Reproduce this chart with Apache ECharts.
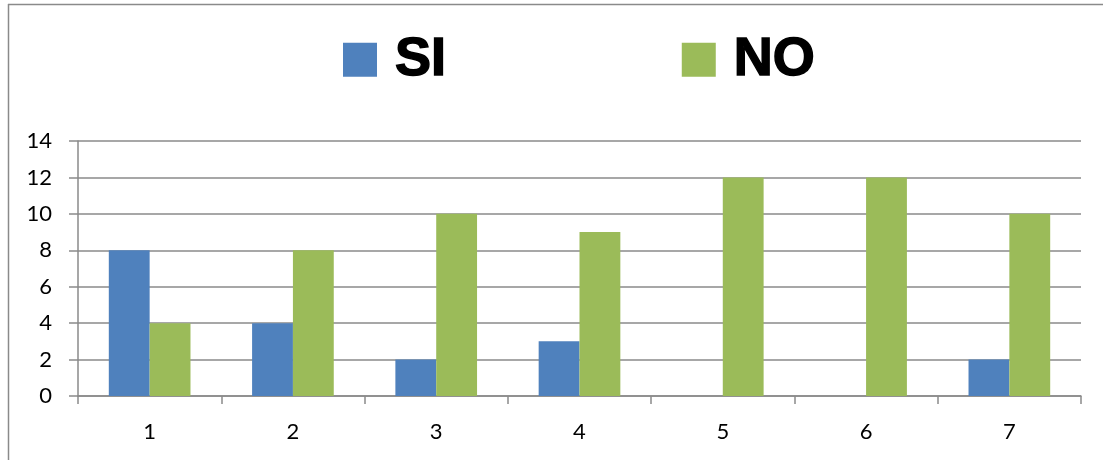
<!DOCTYPE html>
<html><head><meta charset="utf-8">
<script src="https://cdn.jsdelivr.net/npm/echarts@6/dist/echarts.min.js"></script>
<style>html,body{margin:0;padding:0;background:#fff;}#c{width:1103px;height:460px;}</style>
</head><body><div id="c"></div>
<script>
const categories = ['1','2','3','4','5','6','7'];
const siValues = [8,4,2,3,0,0,2];
const noValues = [4,8,10,9,12,12,10];
const seriesNames = ['SI','NO'];

const chart = echarts.init(document.getElementById('c'), null, {renderer:'canvas'});
const axisFont = {fontFamily:'Lato, "Open Sans", sans-serif', fontSize:22, color:'#000'};
chart.setOption({
  animation:false,
  backgroundColor:'#fff',
  graphic:[
    {type:'line', shape:{x1:8,y1:4.5,x2:1103,y2:4.5}, style:{stroke:'#8a8a8a',lineWidth:1.5}},
    {type:'line', shape:{x1:8.5,y1:4,x2:8.5,y2:460}, style:{stroke:'#8a8a8a',lineWidth:1.5}}
  ],
  legend:{
    left:338, top:27,
    itemWidth:34, itemHeight:34, itemGap:235,
    icon:'rect',
    data:seriesNames,
    textStyle:{fontFamily:'"Liberation Sans", Arial, sans-serif', fontWeight:'bold', fontSize:54, color:'#000', padding:[0,0,0,13], lineHeight:54, textBorderColor:'#000', textBorderWidth:1.5}
  },
  grid:{left:78, right:22, top:141, bottom:64, containLabel:false},
  xAxis:{
    type:'category', data:categories,
    axisLine:{lineStyle:{color:'#8a8a8a', width:1.5}},
    axisTick:{show:true, length:8, lineStyle:{color:'#8a8a8a', width:1.5}},
    axisLabel:Object.assign({margin:25}, axisFont)
  },
  yAxis:{
    type:'value', min:0, max:14, interval:2,
    axisLine:{show:true, lineStyle:{color:'#8a8a8a', width:1.5}},
    axisTick:{show:true, length:9, lineStyle:{color:'#8a8a8a', width:1.5}},
    splitLine:{lineStyle:{color:'#8a8a8a', width:1.5}},
    axisLabel:Object.assign({margin:26}, axisFont)
  },
  series:[
    {name:seriesNames[0], type:'bar', data:siValues, barGap:'0%', barCategoryGap:'43%', itemStyle:{color:'#4F81BD'}},
    {name:seriesNames[1], type:'bar', data:noValues, barGap:'0%', barCategoryGap:'43%', itemStyle:{color:'#9BBB59'}}
  ]
});
</script></body></html>
